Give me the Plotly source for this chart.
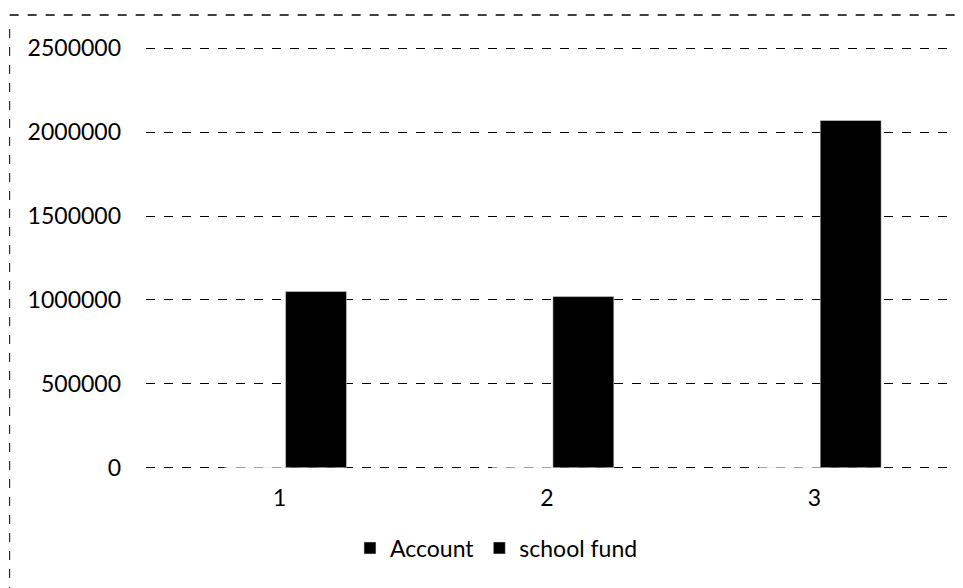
import plotly.graph_objects as go

categories = ["1", "2", "3"]
account = [1, 2, 3]
school_fund = [1050000, 1020000, 2070000]
y_ticks = [0, 500000, 1000000, 1500000, 2000000, 2500000]

FONT = "Lato"

fig = go.Figure()
fig.add_trace(go.Bar(x=categories, y=account, name="Account", marker_color="black",
                     width=0.228, offset=-0.206))
fig.add_trace(go.Bar(x=categories, y=school_fund, name="school fund", marker_color="black",
                     width=0.228, offset=0.022))

# scanned look: dashed chart border on top and left
fig.add_shape(type="line", xref="paper", yref="paper", x0=-0.17, x1=1.02, y0=1.073, y1=1.073,
              line=dict(color="black", width=1.5, dash="dash"))
fig.add_shape(type="line", xref="paper", yref="paper", x0=-0.17, x1=-0.17, y0=1.04, y1=-0.28,
              line=dict(color="black", width=1, dash="dash"))

fig.update_layout(
    width=963,
    height=588,
    margin=dict(l=138, r=23, t=38, b=126),
    plot_bgcolor="white",
    paper_bgcolor="white",
    barmode="group",
    font=dict(family=FONT, size=23, color="black"),
    showlegend=True,
    legend=dict(orientation="h", x=0.437, xanchor="center", y=-0.184, yanchor="middle",
                font=dict(size=23), itemwidth=30, traceorder="normal"),
)
fig.update_xaxes(showgrid=False, showline=False, zeroline=False, ticklabelstandoff=12)
fig.update_yaxes(range=[-14000, 2514000], tickvals=y_ticks, ticktext=[str(v) for v in y_ticks],
                 showgrid=True, gridcolor="black", gridwidth=1, griddash="dash",
                 zeroline=False, showline=False, ticklabelstandoff=24)

fig.write_html("out.html")
